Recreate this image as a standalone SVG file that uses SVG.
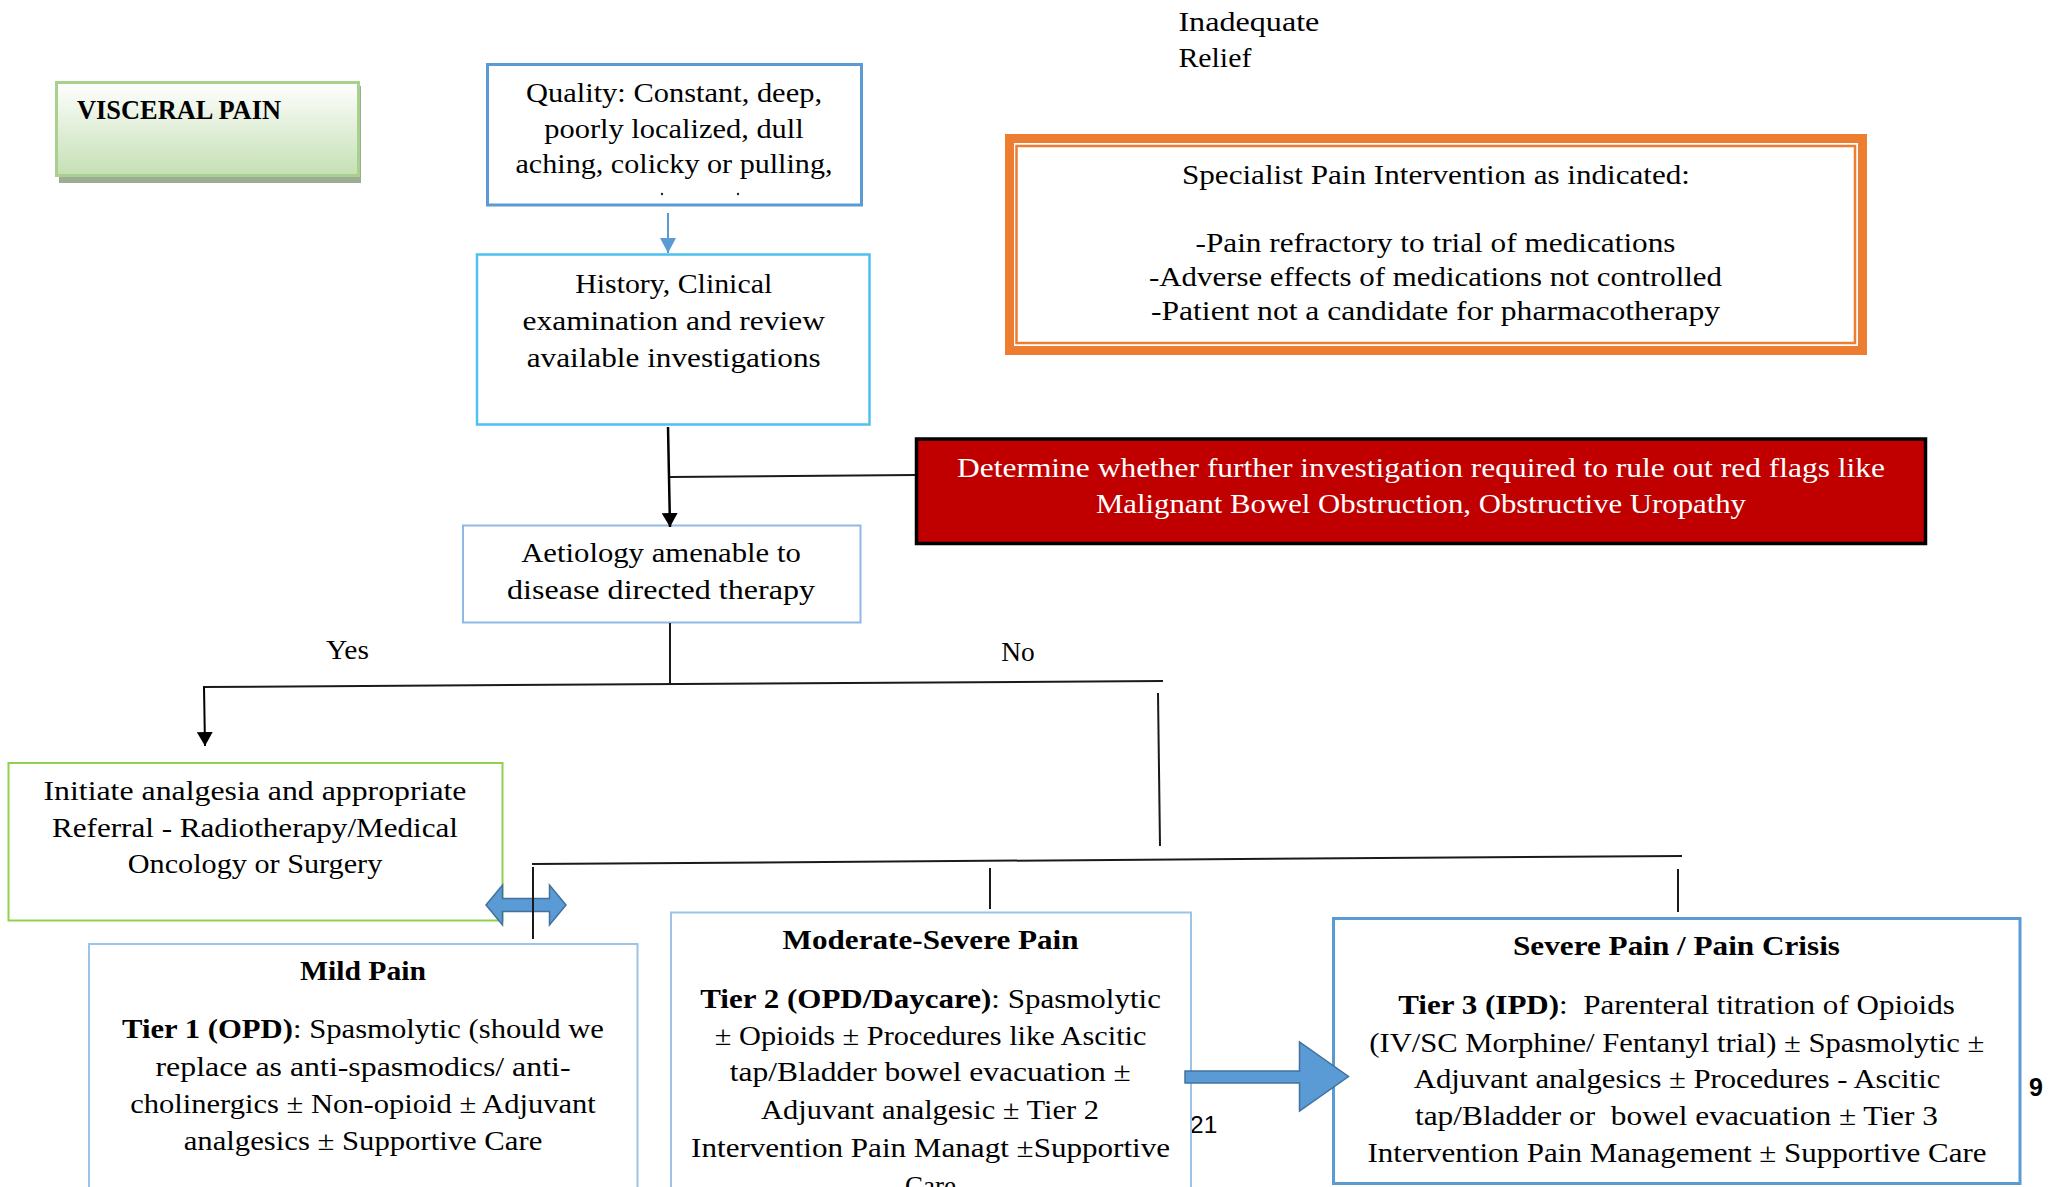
<svg xmlns="http://www.w3.org/2000/svg" width="2049" height="1187" viewBox="0 0 2049 1187">
  <style>
    .t { font-family: 'Liberation Serif', 'Times New Roman', serif; font-size: 27px; fill: #000; }
    .s { font-family: 'Liberation Sans', Arial, sans-serif; fill: #000; }
    .b { font-weight: bold; }
    .w { fill: #ffffff; }
    .mid { text-anchor: middle; }
    .box { fill: #ffffff; }
    .ln { stroke: #1a1a1a; stroke-width: 2; fill: none; }
    .blk { fill: #5b9bd5; stroke: #41719c; stroke-width: 1.5; }
  </style>
  <defs>
    <linearGradient id="greenFill" x1="0" y1="0" x2="0" y2="1">
      <stop offset="0" stop-color="#ffffff"/>
      <stop offset="0.45" stop-color="#e4f0dc"/>
      <stop offset="1" stop-color="#c5e0b4"/>
    </linearGradient>
    <marker id="headBlue" markerUnits="userSpaceOnUse" markerWidth="16" markerHeight="16" refX="15" refY="8" orient="auto">
      <path d="M0,0 L15,8 L0,16 Z" fill="#5b9bd5"/>
    </marker>
    <marker id="headBlack" markerUnits="userSpaceOnUse" markerWidth="16" markerHeight="16" refX="14" refY="8" orient="auto">
      <path d="M0,0 L14,8 L0,16 Z" fill="#000"/>
    </marker>
  </defs>

  <!-- stray page numbers partly hidden behind boxes -->
  <text class="s" x="1190" y="1132.7" style="font-size:24.5px">21</text>
  <text class="s b" x="2029" y="1096" style="font-size:25px">9</text>

  <!-- title -->
  <g id="visceral-pain">
    <rect x="59" y="86" width="302" height="97" fill="#9eab95"/>
    <rect x="56.5" y="82.5" width="302" height="93" fill="url(#greenFill)" stroke="#a9d18e" stroke-width="3"/>
    <text class="t b" x="77" y="119" textLength="204" lengthAdjust="spacingAndGlyphs">VISCERAL PAIN</text>
  </g>

  <g id="quality">
    <rect class="box" x="487.5" y="64.5" width="374" height="140.5" stroke="#5b9bd5" stroke-width="3"/>
    <text class="t mid" x="674" y="101.7" textLength="296" lengthAdjust="spacingAndGlyphs">Quality: Constant, deep,</text>
    <text class="t mid" x="674" y="138.3" textLength="259.5" lengthAdjust="spacingAndGlyphs">poorly localized, dull</text>
    <text class="t mid" x="674" y="173.3" textLength="317" lengthAdjust="spacingAndGlyphs">aching, colicky or pulling,</text>
    <circle cx="662" cy="194" r="1.2" fill="#222"/>
    <circle cx="738" cy="194" r="1.2" fill="#222"/>
  </g>

  <g id="history">
    <rect class="box" x="477" y="254.5" width="392.5" height="170" stroke="#4fc1ee" stroke-width="2.5"/>
    <text class="t mid" x="673.7" y="292.7" textLength="197" lengthAdjust="spacingAndGlyphs">History, Clinical</text>
    <text class="t mid" x="673.7" y="330" textLength="302.5" lengthAdjust="spacingAndGlyphs">examination and review</text>
    <text class="t mid" x="673.7" y="366.7" textLength="294" lengthAdjust="spacingAndGlyphs">available investigations</text>
  </g>

  <g id="inadequate-relief">
    <text class="t" x="1178.4" y="31.4" textLength="141" lengthAdjust="spacingAndGlyphs">Inadequate</text>
    <text class="t" x="1178.4" y="67" textLength="73" lengthAdjust="spacingAndGlyphs">Relief</text>
  </g>

  <g id="specialist">
    <rect x="1009.5" y="138.5" width="853" height="212" fill="#ffffff" stroke="#ed7d31" stroke-width="9"/>
    <rect x="1016.5" y="146" width="838.5" height="197" fill="none" stroke="#ed7d31" stroke-width="2.5"/>
    <text class="t mid" x="1436" y="184" textLength="508" lengthAdjust="spacingAndGlyphs">Specialist Pain Intervention as indicated:</text>
    <text class="t mid" x="1435.5" y="251.8" textLength="480" lengthAdjust="spacingAndGlyphs">-Pain refractory to trial of medications</text>
    <text class="t mid" x="1435.5" y="285.7" textLength="573" lengthAdjust="spacingAndGlyphs">-Adverse effects of medications not controlled</text>
    <text class="t mid" x="1435.5" y="319.6" textLength="569" lengthAdjust="spacingAndGlyphs">-Patient not a candidate for pharmacotherapy</text>
  </g>

  <g id="red-flags">
    <rect x="916.5" y="439" width="1009" height="104.5" fill="#c00000" stroke="#000" stroke-width="3.5"/>
    <text class="t w mid" x="1421" y="476.8" textLength="928" lengthAdjust="spacingAndGlyphs">Determine whether further investigation required to rule out red flags like</text>
    <text class="t w mid" x="1421" y="513.2" textLength="650" lengthAdjust="spacingAndGlyphs">Malignant Bowel Obstruction, Obstructive Uropathy</text>
  </g>

  <g id="aetiology">
    <rect class="box" x="463" y="525.5" width="397.5" height="97" stroke="#8fb8e3" stroke-width="2"/>
    <text class="t mid" x="661" y="562" textLength="279.6" lengthAdjust="spacingAndGlyphs">Aetiology amenable to</text>
    <text class="t mid" x="661" y="599" textLength="308" lengthAdjust="spacingAndGlyphs">disease directed therapy</text>
  </g>

  <g id="labels">
    <text class="t" x="325.9" y="659" textLength="43" lengthAdjust="spacingAndGlyphs">Yes</text>
    <text class="t" x="1001.3" y="660.7" textLength="33.5" lengthAdjust="spacingAndGlyphs">No</text>
  </g>

  <g id="initiate">
    <rect class="box" x="8.5" y="763" width="494" height="157.5" stroke="#92d050" stroke-width="2"/>
    <text class="t mid" x="255" y="800" textLength="423" lengthAdjust="spacingAndGlyphs">Initiate analgesia and appropriate</text>
    <text class="t mid" x="255" y="837" textLength="406" lengthAdjust="spacingAndGlyphs">Referral - Radiotherapy/Medical</text>
    <text class="t mid" x="255" y="873" textLength="254.5" lengthAdjust="spacingAndGlyphs">Oncology or Surgery</text>
  </g>

  <g id="mild-pain">
    <rect class="box" x="89" y="944" width="548.5" height="260" stroke="#9dc3e6" stroke-width="2"/>
    <text class="t b mid" x="363" y="980" textLength="126" lengthAdjust="spacingAndGlyphs">Mild Pain</text>
    <text class="t mid" x="363" y="1038" textLength="482" lengthAdjust="spacingAndGlyphs"><tspan class="b">Tier 1 (OPD)</tspan>: Spasmolytic (should we</text>
    <text class="t mid" x="363" y="1075.6" textLength="415" lengthAdjust="spacingAndGlyphs">replace as anti-spasmodics/ anti-</text>
    <text class="t mid" x="363" y="1113" textLength="465.6" lengthAdjust="spacingAndGlyphs">cholinergics ± Non-opioid ± Adjuvant</text>
    <text class="t mid" x="363" y="1150" textLength="358.5" lengthAdjust="spacingAndGlyphs">analgesics ± Supportive Care</text>
  </g>

  <g id="moderate-severe-pain">
    <rect class="box" x="671" y="912.5" width="520" height="290" stroke="#9dc3e6" stroke-width="2"/>
    <text class="t b mid" x="930.6" y="949" textLength="296" lengthAdjust="spacingAndGlyphs">Moderate-Severe Pain</text>
    <text class="t mid" x="930.6" y="1007.5" textLength="460.7" lengthAdjust="spacingAndGlyphs"><tspan class="b">Tier 2 (OPD/Daycare)</tspan>: Spasmolytic</text>
    <text class="t mid" x="930.6" y="1044.6" textLength="431.7" lengthAdjust="spacingAndGlyphs">± Opioids ± Procedures like Ascitic</text>
    <text class="t mid" x="930.3" y="1081" textLength="401" lengthAdjust="spacingAndGlyphs">tap/Bladder bowel evacuation ±</text>
    <text class="t mid" x="930" y="1118.7" textLength="338" lengthAdjust="spacingAndGlyphs">Adjuvant analgesic ± Tier 2</text>
    <text class="t mid" x="930.6" y="1157" textLength="479" lengthAdjust="spacingAndGlyphs">Intervention Pain Managt ±Supportive</text>
    <text class="t mid" x="930.6" y="1194.5">Care</text>
  </g>

  <g id="severe-pain">
    <rect class="box" x="1333.5" y="918.5" width="686.5" height="265" stroke="#5b9bd5" stroke-width="3"/>
    <text class="t b mid" x="1676.5" y="955" textLength="327" lengthAdjust="spacingAndGlyphs">Severe Pain / Pain Crisis</text>
    <text class="t mid" x="1676.5" y="1014" textLength="556.6" lengthAdjust="spacingAndGlyphs" xml:space="preserve"><tspan class="b">Tier 3 (IPD)</tspan>:  Parenteral titration of Opioids</text>
    <text class="t mid" x="1676.8" y="1051.7" textLength="615" lengthAdjust="spacingAndGlyphs">(IV/SC Morphine/ Fentanyl trial) ± Spasmolytic ±</text>
    <text class="t mid" x="1677" y="1088" textLength="526.5" lengthAdjust="spacingAndGlyphs">Adjuvant analgesics ± Procedures - Ascitic</text>
    <text class="t mid" x="1676.5" y="1125" textLength="523" lengthAdjust="spacingAndGlyphs" xml:space="preserve">tap/Bladder or  bowel evacuation ± Tier 3</text>
    <text class="t mid" x="1677" y="1161.7" textLength="619" lengthAdjust="spacingAndGlyphs">Intervention Pain Management ± Supportive Care</text>
  </g>

  <g id="connectors">
    <!-- block arrows -->
    <path class="blk" d="M486,905 L502.5,885 L502.5,898.5 L549.5,898.5 L549.5,885 L566,905 L549.5,925 L549.5,911.5 L502.5,911.5 L502.5,925 Z"/>
    <path class="blk" d="M1185,1071 L1299.5,1071 L1299.5,1042 L1348.5,1076.5 L1299.5,1111 L1299.5,1083 L1185,1083 Z"/>
    <!-- flow lines -->
    <line x1="668" y1="213" x2="668" y2="253" stroke="#5b9bd5" stroke-width="2" marker-end="url(#headBlue)"/>
    <line x1="668" y1="427" x2="670" y2="527" stroke="#000" stroke-width="2.5" marker-end="url(#headBlack)"/>
    <line class="ln" x1="670" y1="477" x2="915" y2="475"/>
    <line class="ln" x1="670" y1="623" x2="670" y2="685"/>
    <line class="ln" x1="203" y1="687" x2="1163" y2="681"/>
    <line x1="204" y1="687" x2="205" y2="746" stroke="#000" stroke-width="2" marker-end="url(#headBlack)"/>
    <line class="ln" x1="1158" y1="693" x2="1160" y2="846"/>
    <line class="ln" x1="532" y1="864" x2="1682" y2="856"/>
    <line class="ln" x1="533" y1="867" x2="533" y2="939"/>
    <line class="ln" x1="990" y1="868" x2="990" y2="909"/>
    <line class="ln" x1="1678" y1="869" x2="1678" y2="912"/>
  </g>
</svg>
